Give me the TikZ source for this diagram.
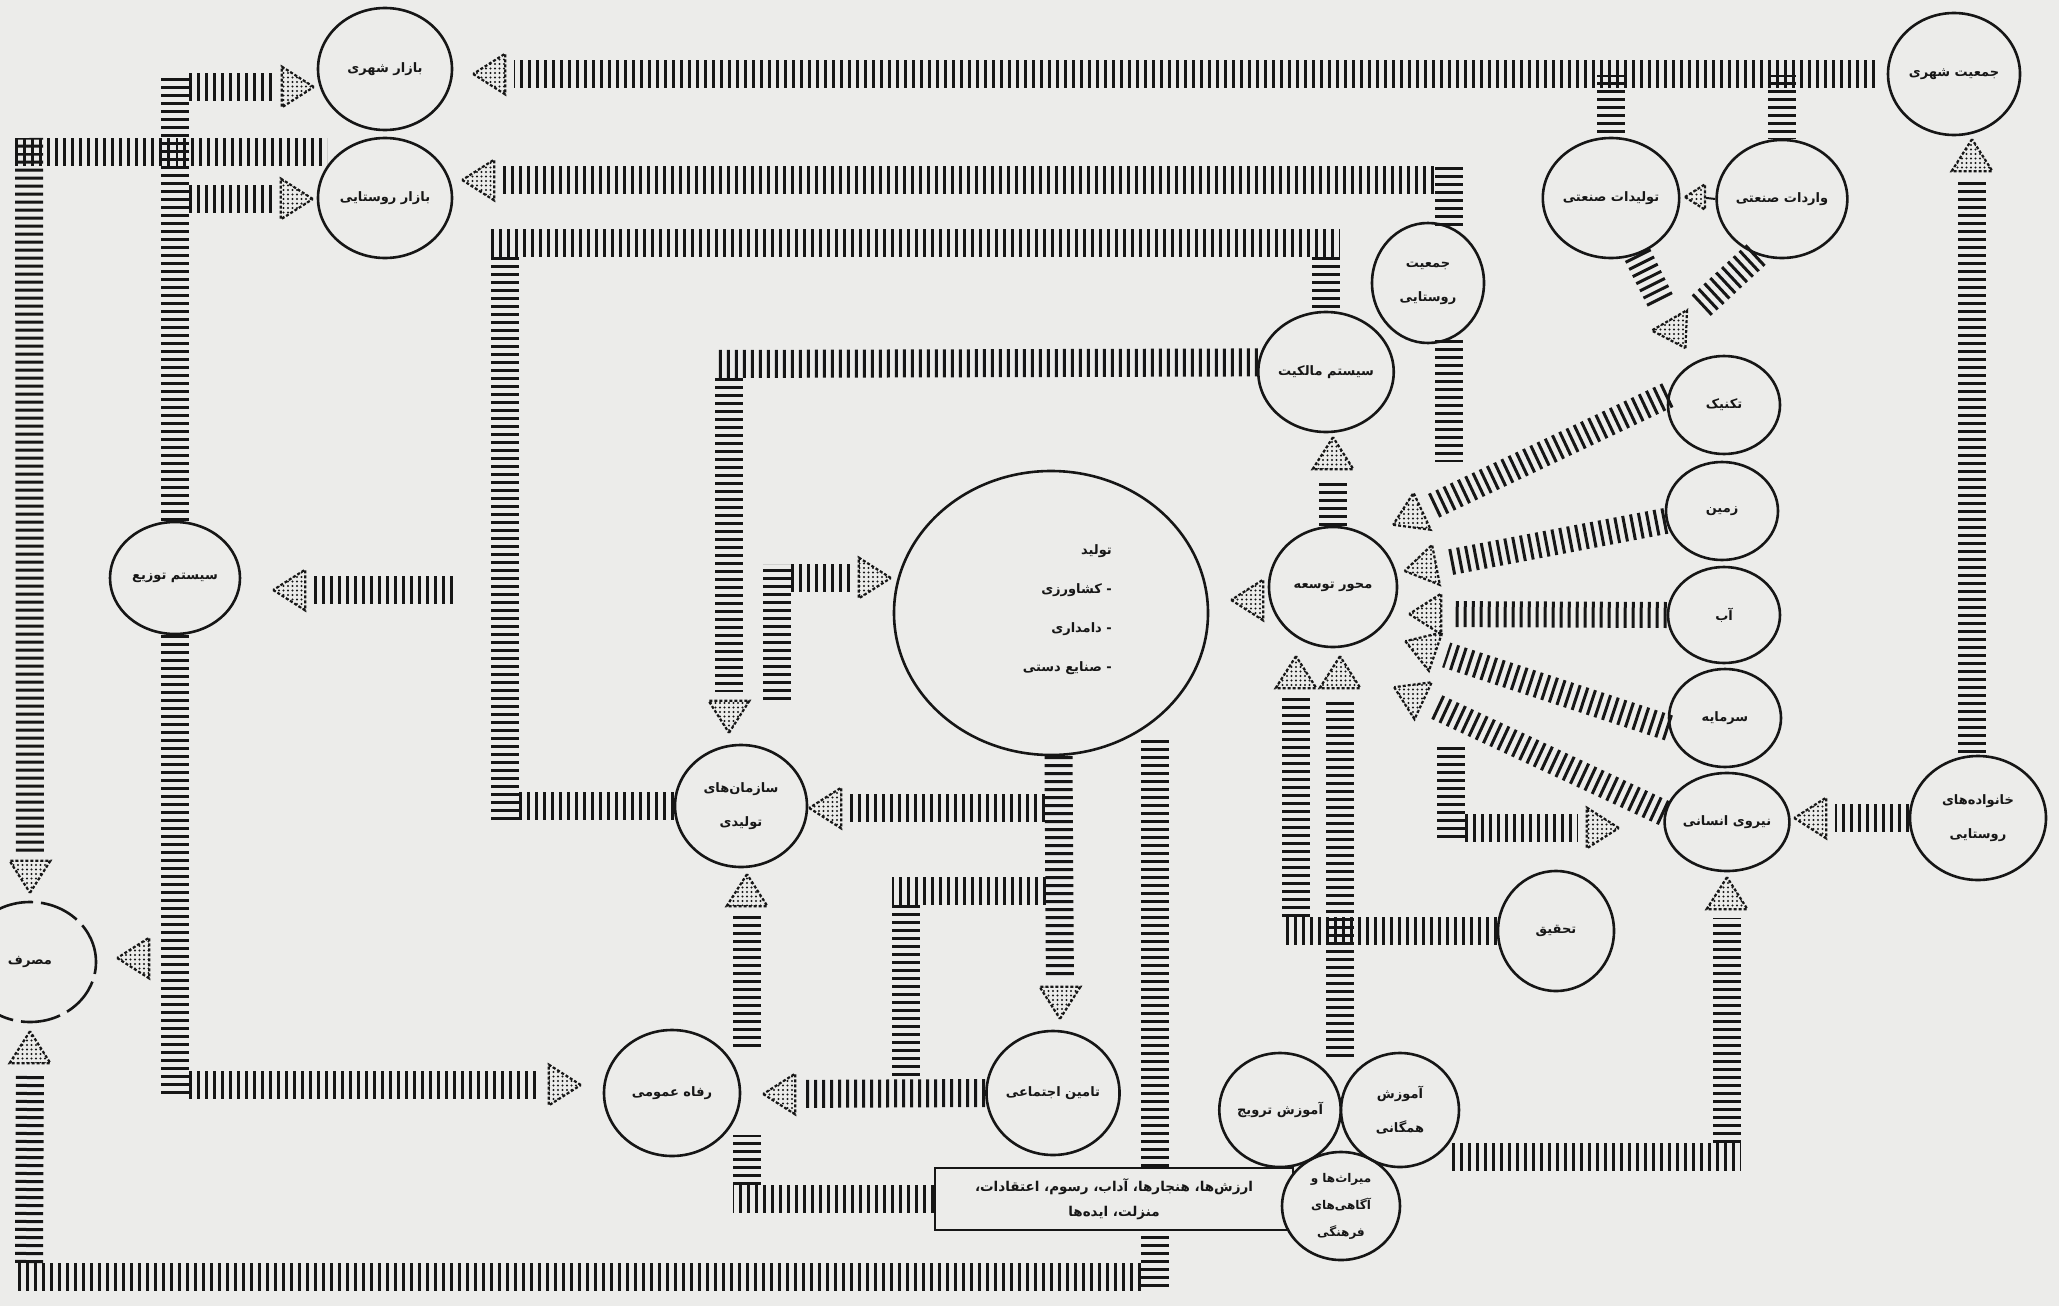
\documentclass[tikz,border=0pt]{standalone}
\usepackage{fontspec}
\newfontfamily\arabicfont[Script=Arabic]{DejaVu Sans}
\TeXXeTstate=1
\usetikzlibrary{shapes.geometric,patterns.meta}
\definecolor{paper}{RGB}{236,236,234}
\definecolor{ink}{RGB}{22,22,22}
\newcommand\fa[1]{\beginR#1\endR}
\pgfdeclarelayer{fg}
\pgfsetlayers{main,fg}
\tikzset{
  entity/.style={ellipse, draw=ink, line width=2.6pt, inner sep=0pt, align=center, text=ink,
    font=\arabicfont\bfseries\fontsize{13}{34}\selectfont},
  dims/.style 2 args={minimum width=#1pt, minimum height=#2pt},
  band/.style={draw=ink, line width=28pt, dash pattern=on 3pt off 5pt,
    preaction={draw=paper, solid}},
  fanband/.style={band, line width=26pt},
  arrowhd/.style={isosceles triangle, isosceles triangle apex angle=65,
    minimum height=32pt, minimum width=32pt, inner sep=0pt, draw=ink, line width=2.2pt,
    dash pattern=on 3pt off 2pt,
    pattern={Dots[distance=4.5pt, radius=1.2pt]}, pattern color=ink, rotate=#1},
}
\begin{document}
\begin{tikzpicture}[x=1pt,y=-1pt]
\useasboundingbox (0,0) rectangle (2059,1306);
\fill[paper] (0,0) rectangle (2059,1306);

\begin{pgfonlayer}{fg}
% ---------- entities ----------
\node[entity,dims={134}{122}] (bs) at (385,69) {\fa{بازار شهری}};
\node[entity,dims={134}{120}] (br) at (385,198) {\fa{بازار روستایی}};
\node[entity,dims={132}{122}] (js) at (1954,74) {\fa{جمعیت شهری}};
\node[entity,dims={128}{120}] (ts) at (1611,198) {\fa{تولیدات صنعتی}};
\node[entity,dims={130}{118}] (vs) at (1782,199) {\fa{واردات صنعتی}};
\node[entity,dims={112}{120}] (jr) at (1428,283) {\fa{جمعیت}\\\fa{روستایی}};
\node[entity,dims={126}{120}] (sm) at (1326,372) {\fa{سیستم مالکیت}};
\node[entity,dims={128}{120}] (mt) at (1333,587) {\fa{محور توسعه}};
\node[entity,dims={112}{98}] (tk) at (1724,405) {\fa{تکنیک}};
\node[entity,dims={112}{98}] (zm) at (1722,511) {\fa{زمین}};
\node[entity,dims={112}{96}] (ab) at (1724,615) {\fa{آب}};
\node[entity,dims={112}{98}] (sr) at (1725,718) {\fa{سرمایه}};
\node[entity,dims={112}{98}] (ne) at (1727,822) {\fa{نیروی انسانی}};
\node[entity,dims={136}{124}] (kh) at (1978,818) {\fa{خانواده^^^^200cهای}\\\fa{روستایی}};
\node[entity,dims={116}{120}] (th) at (1556,931) {\fa{تحقیق}};
\node[entity,dims={314}{284}] (tl) at (1051,613) {};
\node[text=ink, align=right, anchor=east, inner sep=0pt,
      font=\arabicfont\bfseries\fontsize{13}{39}\selectfont] (tlt) at (1112,610)
      {\fa{تولید}\\\fa{- کشاورزی}\\\fa{- دامداری}\\\fa{- صنایع دستی}};
\node[entity,dims={130}{112}] (st) at (175,578) {\fa{سیستم توزیع}};
\node[entity,dims={132}{120}, dash pattern=on 40pt off 8pt] (ms) at (30,962) {\fa{مصرف}};
\node[entity,dims={132}{122}] (sz) at (741,806) {\fa{سازمان^^^^200cهای}\\\fa{تولیدی}};
\node[entity,dims={136}{126}] (rf) at (672,1093) {\fa{رفاه عمومی}};
\node[entity,dims={132}{124}] (ta) at (1053,1093) {\fa{تامین اجتماعی}};
\node[draw=ink, fill=paper, line width=2.6pt, minimum width=358pt, minimum height=62pt,
      inner sep=0pt, align=center, text=ink,
      font=\arabicfont\bfseries\fontsize{13.5}{25}\selectfont] (rc) at (1114,1199)
      {\fa{ارزش^^^^200cها، هنجارها، آداب، رسوم، اعتقادات،}\\\fa{منزلت، ایده^^^^200cها}};
\node[entity, fill=paper, dims={118}{108}, font=\arabicfont\bfseries\fontsize{12}{27}\selectfont] (mf) at (1341,1206)
      {\fa{میراث^^^^200cها و}\\\fa{آگاهی^^^^200cهای}\\\fa{فرهنگی}};
\node[entity,dims={120}{114}] (at) at (1280,1110) {\fa{آموزش ترویج}};
\node[entity,dims={118}{114}] (ah) at (1400,1110) {\fa{آموزش}\\\fa{همگانی}};

% ---------- arrowheads ----------
\node[arrowhd=180] (a1) at (494,74) {};
\node[arrowhd=0] (a2) at (293,87) {};
\node[arrowhd=0] (a3) at (292,199) {};
\node[arrowhd=180] (a4) at (483,180) {};
\node[arrowhd=90] (a5) at (1972,160) {};
\node[arrowhd=180, minimum height=20pt, minimum width=20pt] (a6) at (1698,197) {};
\node[arrowhd=300] (a7) at (1675,330) {};
\node[arrowhd=90] (a8) at (1333,458) {};
\node[arrowhd=205] (a9) at (1412,516) {};
\node[arrowhd=191] (a10) at (1425,567) {};
\node[arrowhd=180] (a11) at (1430,614) {};
\node[arrowhd=161] (a12) at (1425,648) {};
\node[arrowhd=155] (a13) at (1413,696) {};
\node[arrowhd=0] (a14) at (1598,828) {};
\node[arrowhd=180] (a15) at (1815,818) {};
\node[arrowhd=90] (a16) at (1727,898) {};
\node[arrowhd=90] (a17) at (1296,677) {};
\node[arrowhd=90] (a18) at (1340,677) {};
\node[arrowhd=180] (a19) at (1252,600) {};
\node[arrowhd=0] (a20) at (870,578) {};
\node[arrowhd=270] (a21) at (729,712) {};
\node[arrowhd=180] (a22) at (830,808) {};
\node[arrowhd=90] (a23) at (747,895) {};
\node[arrowhd=270] (a24) at (1060,998) {};
\node[arrowhd=180] (a25) at (784,1094) {};
\node[arrowhd=0] (a26) at (560,1085) {};
\node[arrowhd=180] (a27) at (138,958) {};
\node[arrowhd=270] (a28) at (30,872) {};
\node[arrowhd=90] (a29) at (30,1052) {};
\node[arrowhd=180] (a30) at (294,590) {};
\end{pgfonlayer}

% ---------- connectors (hatched bands) ----------
\coordinate (topy) at (0,74);
% consumption <- markets
\draw[band, shorten <=8pt] (a28) -- (29,138);
\draw[band] (15,152) -- (327,152);
% distribution system
\draw[band] (st.north) -- (175,73);
\draw[band, shorten >=8pt] (189,87) -- (a2);
\draw[band, shorten >=8pt] (189,199) -- (a3);
\draw[band] (st.south) -- (175,1099);
\draw[band, shorten >=8pt] (189,1085) -- (a26);
% production -> consumption
\draw[band] (1155,740) -- (1155,1291);
\draw[band] (1141,1277) -- (15,1277);
\draw[band, shorten >=8pt] (29,1263) -- (a29);
% urban side
\draw[band] (ts.north |- topy) -- (ts.north);
\draw[band] (vs.north |- topy) -- (vs.north);
\draw[band, shorten <=12pt, shorten >=8pt] (js.west) -- (a1);
\draw[band, shorten <=10pt] (a5) -- (a5 |- kh.north);
\draw[band, shorten >=16pt] (ts.-65) -- (a7);
\draw[band, shorten >=16pt] (vs.-115) -- (a7);
% rural population
\draw[band] (jr.70) -- ++(0,-61);
\draw[band, shorten >=8pt] (1434,180) -- (a4);
\draw[band] (jr.-70) -- ++(0,122);
% ownership system
\draw[band] (sz.west) -- (519,806);
\draw[band] (505,820) -- (505,257);
\draw[band] (491,243) -- (1340,243);
\draw[band] (1326,257) -- (sm.north);
\draw[band] (sm.172) -- (715,364);
\draw[band, shorten >=8pt] (729,378) -- (a21);
\draw[band] (777,700) -- (777,564);
\draw[band, shorten >=8pt] (791,578) -- (a20);
% production outputs
\draw[band, shorten >=8pt] (tl.-87) -- (a24);
\draw[band, shorten <=8pt] (a22) -- (1046,808);
\draw[band] (1046,891) -- (892,891);
\draw[band] (906,905) -- (906,1080);
\draw[band, shorten >=8pt] (ta.west) -- (a25);
% culture -> organisations
\draw[band] (rc.west) -- (733,1199);
\draw[band] (747,1185) -- (747,1135);
\draw[band, shorten >=8pt] (747,1047) -- (a23);
% development axis
\draw[band, shorten >=8pt] (mt.north) -- (a8);
\draw[fanband, shorten >=10pt] (tk.170) -- (a9);
\draw[fanband, shorten >=10pt] (zm.190) -- (a10);
\draw[fanband, shorten >=10pt] (ab.west) -- (a11);
\draw[fanband, shorten >=10pt] (sr.190) -- (a12);
\draw[fanband, shorten >=10pt] (ne.172) -- (a13);
\draw[band] (1451,747) -- (1451,842);
\draw[band, shorten >=8pt] (1465,828) -- (a14);
\draw[band, shorten >=8pt] (kh.west) -- (a15);
\draw[band] (1452,1157) -- (1741,1157);
\draw[band, shorten >=8pt] (1727,1143) -- (a16);
\draw[band] (th.west) -- (1282,931);
\draw[band, shorten >=8pt] (1296,917) -- (a17);
\draw[band, shorten >=8pt] (1340,1057) -- (a18);
\draw[band, shorten >=8pt] (453,590) -- (a30);
\draw[ink, line width=2pt] (vs.west) -- (a6);
\end{tikzpicture}
\end{document}
